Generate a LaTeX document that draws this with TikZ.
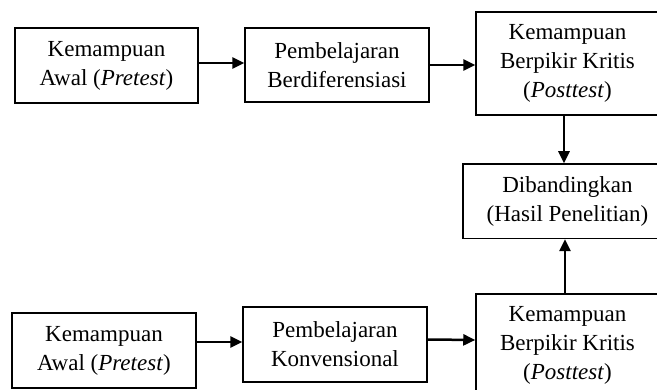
\documentclass[tikz,border=0pt]{standalone}
\usepackage{fontspec}
\setmainfont{Liberation Serif}
\usetikzlibrary{arrows.meta}
\begin{document}
\begin{tikzpicture}[x=1pt,y=-1pt,
  box/.style={draw, line width=1.5pt, align=center, inner sep=0pt,
    font=\fontsize{23}{29}\selectfont},
  arr/.style={line width=2.5pt, -{Triangle[length=12pt,width=11pt]}}]
\useasboundingbox (0,0) rectangle (657,390);
\node[box, minimum width=183pt, minimum height=75pt] (a1) at (106.5,65.5) {Kemampuan\\Awal (\textit{Pretest})};
\node[box, minimum width=184pt, minimum height=74pt] (b1) at (337,65) {Pembelajaran\\Berdiferensiasi};
\node[box, minimum width=183pt, minimum height=103pt] (c1) at (567.5,63.5) {Kemampuan\\Berpikir Kritis\\(\textit{Posttest})};
\node[box, minimum width=209pt, minimum height=74.5pt] (d) at (567.5,201.25) {Dibandingkan\\(Hasil Penelitian)};
\node[box, minimum width=184pt, minimum height=75pt] (a2) at (104,350.5) {Kemampuan\\Awal (\textit{Pretest})};
\node[box, minimum width=184pt, minimum height=75pt] (b2) at (335,344.5) {Pembelajaran\\Konvensional};
\node[box, minimum width=183pt, minimum height=103pt] (c2) at (567.5,345.5) {Kemampuan\\Berpikir Kritis\\(\textit{Posttest})};
\draw[arr] ([yshift=2.5pt]a1.east) -- ([yshift=2pt]b1.west);
\draw[arr] (b1.east) -- ([yshift=-1.5pt]c1.west);
\draw[arr] ([xshift=-3.5pt]c1.south) -- ([xshift=-3.5pt]c1.south |- d.north);
\draw[arr] ([xshift=-2.5pt]c2.north) -- ([xshift=-2.5pt]c2.north |- d.south);
\draw[arr] ([yshift=8.5pt]a2.east) -- ([yshift=2.5pt]b2.west);
\draw[arr] ([yshift=5pt]b2.east) -- ([yshift=5.5pt]c2.west);
\end{tikzpicture}
\end{document}
